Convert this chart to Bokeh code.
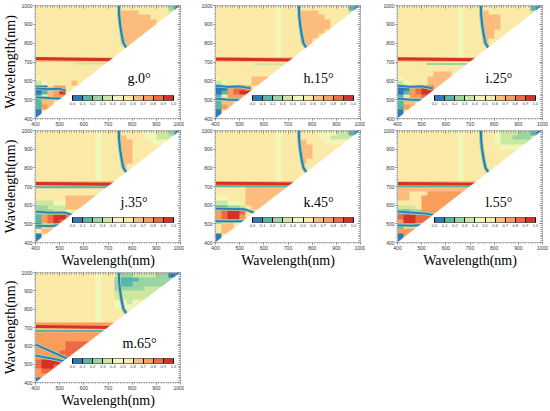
import numpy as np
from bokeh.plotting import figure
from bokeh.models import (LinearColorMapper, ColorBar, FixedTicker, LinearAxis,
                          Label, Range1d, PrintfTickFormatter, AllLabels)
from bokeh.layouts import column, row
from bokeh.embed import file_html
from bokeh.resources import INLINE

WL_LO, WL_HI = 400, 1000
MAJOR_TICKS = [400, 500, 600, 700, 800, 900, 1000]
MINOR_TICKS = list(range(400, 1001, 10))
CBAR_TICKS = [0.0, 0.1, 0.2, 0.3, 0.4, 0.5, 0.6, 0.7, 0.8, 0.9, 1.0]
PALETTE = ["#2b7bba", "#55b6a9", "#9bd4a3", "#cbe8a0", "#f1f7b6",
           "#fbeaa7", "#fcbd7c", "#f99d5c", "#ee6843", "#d73027"]

LABELS = ["g.0°", "h.15°", "i.25°", "j.35°", "k.45°", "l.55°", "m.65°"]
LABEL_X = [781, 764, 764, 752, 764, 764, 760]
X_TITLE = "Wavelength(nm)"
Y_TITLE = "Wavelength(nm)"

# correlation classes (0..9 -> 0.0-0.1 ... 0.9-1.0), 25 nm cells, rows from 1000 nm down
GRID_G = ["5555 5555 5555 5555 5555 5520", "5555 5555 5555 5566 6555 5533",
          "5555 5555 5555 5566 6665 5555", "5555 5555 5555 5566 6666 5555",
          "5555 5555 5555 5566 6666 5555", "5555 5555 5555 5566 6665 5555",
          "5555 5555 5555 5566 6655 5555", "5555 5555 5555 5566 6555 5555",
          "5555 5555 5555 5556", "5555 5555 5555 5555", "5555 5555 5555 5555",
          "7777 7777 7777 7", "5555 5555 5555", "5555 5555 555", "5555 5555 55",
          "4555 5555 5", "3455 5565", "0057 755", "0167 95", "1567 7", "1665",
          "176", "05", "0"]
GRID_H = ["5555 5555 5545 5555 5555 5510", "5555 5555 5545 5566 6555 5533",
          "5555 5555 5545 5566 6655 5555", "5555 5555 5545 5566 6665 5555",
          "5555 5555 5545 5566 6665 5555", "5555 5555 5545 5566 6655 5555",
          "5555 5555 5545 5566 6555 5555", "5555 5555 5545 5566 5555 5555",
          "5555 5555 5545 5556", "5555 5555 5545 5555", "5555 5555 5545 55",
          "7777 7777 7777 7", "5555 5555 5555", "5555 5555 555", "5555 5555 55",
          "4555 5566 6", "3455 5566", "0078 875", "0178 99", "1577 7", "1665",
          "176", "05", "0"]
GRID_I = ["5555 5555 5545 5555 5555 5510", "5555 5555 5545 5565 5555 5533",
          "5555 5555 5545 5566 6555 5555", "5555 5555 5545 5566 6555 5555",
          "5555 5555 5545 5566 6555 5555", "5555 5555 5545 5566 5555 5555",
          "5555 5555 5545 5566 5555 5555", "5555 5555 5545 5565 5555 5555",
          "5555 5555 5545 5555", "5555 5555 5545 5555", "5555 5555 5545 55",
          "7777 7777 7777 7", "5555 5555 5555", "5555 5555 555", "5555 5566 65",
          "4555 5666 6", "3455 5666", "0078 986", "0178 99", "1577 8", "1665",
          "176", "05", "0"]
GRID_J = ["5555 5555 5545 5555 5544 3320", "5555 5555 5545 5565 5544 3333",
          "5555 5555 5545 5566 5554 4455", "5555 5555 5545 5566 5555 5555",
          "5555 5555 5545 5566 5555 5555", "5555 5555 5545 5566 5555 5555",
          "5555 5555 5545 5566 5555 5555", "5555 5555 5545 5565 5555 5555",
          "5555 5555 5545 5555", "5555 5555 5545 5555", "5555 5555 5545 55",
          "7777 7777 7777 7", "5555 5555 5555", "5555 5555 555", "5555 5666 66",
          "3334 4666 6", "2233 3666", "2223 345", "1789 98", "1789 8", "0555",
          "566", "05", "0"]
GRID_K = ["5555 5555 5545 5555 5444 3310", "5555 5555 5545 5555 5443 3333",
          "5555 5555 5545 5565 5544 4455", "5555 5555 5545 5566 5555 5555",
          "5555 5555 5545 5566 5555 5555", "5555 5555 5545 5566 5555 5555",
          "5555 5555 5545 5565 5555 5555", "5555 5555 5545 5555 5555",
          "5555 5555 5545 5555", "5555 5555 5545 5555", "5555 5555 5545 55",
          "7777 7777 7777 7", "5555 5666 6666", "5555 5666 666", "4455 5666 66",
          "3344 5666 6", "1122 3566", "7899 855", "7899 75", "1555 5", "5665",
          "566", "05", "0"]
GRID_L = ["5555 5555 5545 5555 4333 2210", "5555 5555 5545 5555 4332 2233",
          "5555 5555 5545 5555 4333 3355", "5555 5555 5545 5555 5444 4555",
          "5555 5555 5545 5555", "5555 5555 5545 5555", "5555 5555 5545 5555",
          "5555 5555 5545 5555", "5555 5555 5545 5555", "5555 5555 5545 5555",
          "5555 5555 5545 55", "7777 7777 7777 7", "6666 6666 6666",
          "6655 5777 777", "6655 7777 77", "5555 7777 7", "3335 7777", "1122 777",
          "8998 88", "7998 8", "1555", "777", "07", "0"]
GRID_M = ["5555 5555 5545 5322 3333 2200", "5555 5555 5545 5211 1222 2222",
          "5555 5555 5545 5211 2222 2255", "5555 5555 5545 5222 2233 3555",
          "5555 5555 5545 5333 3333 5555", "5555 5555 5545 5333 3335 5555",
          "5555 5555 5545 5443 4555 5555", "5555 5555 5545 5444 5555 5555",
          "5555 5555 5545 5555", "5555 5555 5545 5555", "5555 5555 5545 55",
          "7777 7777 7777 7", "6666 6666 6666", "7777 7777 777", "7777 7777 77",
          "7777 7888 8", "7777 7888", "7777 888", "7777 78", "8999 8", "8998",
          "788", "77", "0"]

# ridge of low correlation (blue curve) shared by all panels
RIDGE_X = [745, 746, 750, 756, 764, 776]
RIDGE_Y = [1000, 950, 900, 850, 800, 776]
# high-correlation band (y at 400 nm and at 720 nm)
BAND_X = [400, 720]
BAND_Y = [[718, 712], [716, 710], [717, 712], [716, 712], [718, 714], [716, 712], [705, 700]]
# low-correlation line under the band: (start x, y, class)
TEAL = [(560, 692, 3), (560, 688, 3), (520, 690, 2), (400, 696, 1), (400, 701, 1), (400, 701, 1), (400, 681, 1)]
# lower-left blue lines
UP_X = [[400, 450, 500, 525], [400, 450, 500, 545], [400, 450, 500, 545], [400, 460, 520, 560],
        [400, 460, 520, 560], [400, 460, 520, 555], [400, 480, 560]]
UP_Y = [[560, 556, 558, 548], [575, 568, 570, 560], [575, 568, 570, 560], [565, 560, 560, 545],
        [582, 580, 578, 560], [565, 560, 555, 545], [607, 560, 513]]
LO_X = [[405, 460, 510, 530], [400, 450, 500, 540], [400, 450, 500, 540], [400, 460, 520],
        [400, 460, 525], [400, 460, 525], [400, 470, 530]]
LO_Y = [[512, 508, 505, 515], [505, 500, 498, 520], [505, 500, 498, 518], [490, 488, 495],
        [515, 513, 515], [492, 490, 495], [547, 530, 513]]

GRIDS = [GRID_G, GRID_H, GRID_I, GRID_J, GRID_K, GRID_L, GRID_M]

SERIF = "Liberation Serif"
SANS = "Liberation Sans"


def to_array(grid):
    rows = []
    for s in grid:
        s = (s.replace(" ", "") + "5" * 24)[:24]
        rows.append([int(ch) / 10 + 0.05 for ch in s])
    return np.flipud(np.array(rows))


def style_axis(ax, labels=True):
    ax.ticker = FixedTicker(ticks=MAJOR_TICKS, minor_ticks=MINOR_TICKS)
    ax.axis_line_color = "#999999"
    ax.axis_line_width = 0.6
    ax.major_tick_line_color = "#777777"
    ax.minor_tick_line_color = "#999999"
    ax.major_label_text_font = SANS
    ax.major_label_text_color = "#333333"
    ax.major_label_text_font_size = "5px"
    ax.axis_label_standoff = 0
    ax.axis_label_text_font = SERIF
    ax.axis_label_text_font_style = "normal"
    ax.axis_label_text_font_size = "14px"
    ax.axis_label_text_color = "black"
    if labels:
        ax.major_tick_in = 0
        ax.major_tick_out = 2
        ax.minor_tick_in = 0
        ax.minor_tick_out = 1
        ax.major_label_standoff = 1
    else:
        ax.major_tick_in = 3
        ax.major_tick_out = 0
        ax.minor_tick_in = 2
        ax.minor_tick_out = 0
        ax.major_label_standoff = 0
        ax.major_label_overrides = {t: "" for t in MAJOR_TICKS}


def make_panel(i, w, h, bl, br, bt, bb, cb_y, xtitle, ytitle):
    mapper = LinearColorMapper(palette=PALETTE, low=0.0, high=1.0)
    p = figure(width=w, height=h, x_range=Range1d(WL_LO, WL_HI), y_range=Range1d(WL_LO, WL_HI),
               toolbar_location=None, output_backend="svg",
               min_border_left=bl, min_border_right=br, min_border_top=bt, min_border_bottom=bb)
    p.grid.visible = False
    p.outline_line_color = None
    p.image(image=[to_array(GRIDS[i])], x=WL_LO, y=WL_LO, dw=WL_HI - WL_LO, dh=WL_HI - WL_LO,
            color_mapper=mapper)
    p.line(BAND_X, BAND_Y[i], line_color=PALETTE[9], line_width=3)
    tx, ty, tc = TEAL[i]
    p.line([tx, 720], [ty, ty], line_color=PALETTE[tc], line_width=2)
    for xs, ys in ((UP_X[i], UP_Y[i]), (LO_X[i], LO_Y[i])):
        p.line(xs, ys, line_color=PALETTE[2], line_width=3.5)
        p.line(xs, ys, line_color=PALETTE[0], line_width=1.8)
    p.line(RIDGE_X, RIDGE_Y, line_color=PALETTE[2], line_width=4)
    p.line(RIDGE_X, RIDGE_Y, line_color=PALETTE[0], line_width=2)
    # empty lower triangle
    p.patch([WL_LO, WL_HI, WL_HI], [WL_LO, WL_LO, WL_HI], fill_color="white", line_color="white",
            line_width=0.5)
    p.add_layout(Label(x=LABEL_X[i], y=612, text=LABELS[i], text_font=SERIF, text_font_size="14px",
                       text_baseline="middle", text_color="black"))
    cb = ColorBar(color_mapper=mapper, orientation="horizontal", location=(37, cb_y), width=101, height=5,
                  padding=0, ticker=FixedTicker(ticks=CBAR_TICKS),
                  formatter=PrintfTickFormatter(format="%.1f"), major_label_policy=AllLabels(),
                  major_label_text_font_size="4px", major_label_text_font=SANS, label_standoff=1,
                  major_tick_in=5, major_tick_out=0, major_tick_line_color="black",
                  minor_tick_line_color=None, bar_line_color="black", bar_line_width=0.5,
                  background_fill_alpha=0, border_line_color=None)
    p.add_layout(cb)
    style_axis(p.xaxis[0])
    style_axis(p.yaxis[0])
    if ytitle:
        p.yaxis[0].axis_label = Y_TITLE
    if xtitle:
        p.xaxis[0].axis_label = X_TITLE
    top = LinearAxis()
    style_axis(top, labels=False)
    p.add_layout(top, "above")
    right = LinearAxis()
    style_axis(right, labels=False)
    p.add_layout(right, "right")
    return p


COL_W = [184, 181, 183]
COL_BL = [35, 31, 32]
COL_BR = [4, 5, 6]
ROW_H = [128, 142, 140]
ROW_BT = [5, 2, 2]
ROW_BB = [10, 25, 25]
ROW_CB = [11, 13, 12]

panels = []
for k in range(7):
    r, c = divmod(k, 3)
    panels.append(make_panel(k, COL_W[c], ROW_H[r], COL_BL[c], COL_BR[c], ROW_BT[r], ROW_BB[r],
                             ROW_CB[r], xtitle=(r > 0), ytitle=(c == 0)))

layout = column(row(*panels[0:3]), row(*panels[3:6]), row(panels[6]))
open("out.html", "w").write(file_html(layout, INLINE))
